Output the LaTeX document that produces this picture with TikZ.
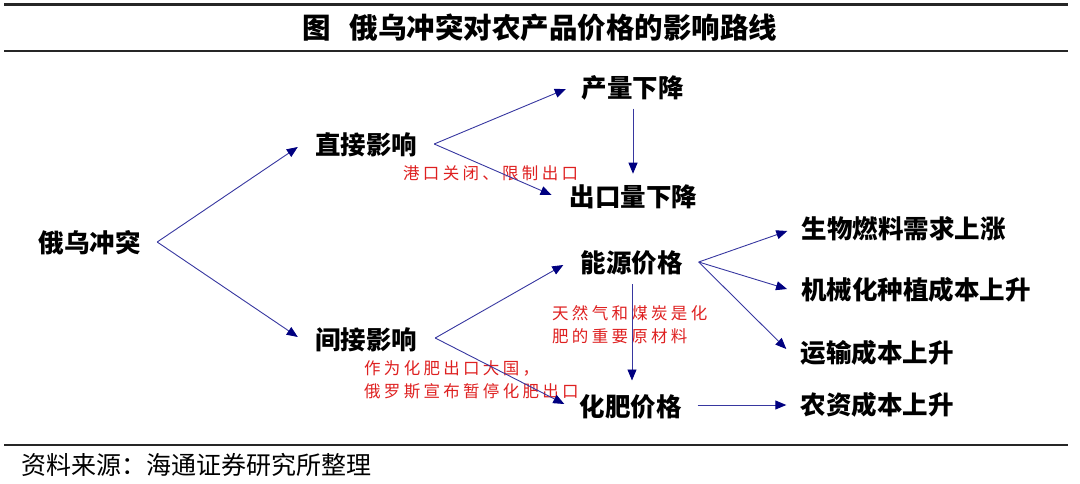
\documentclass[tikz,border=0pt]{standalone}
\usepackage{fontspec}
\usetikzlibrary{arrows.meta,calc}
\newfontfamily\cjk{Noto Sans CJK SC}
\newfontfamily\cjkred{Noto Sans CJK SC}[LetterSpace=20]
\definecolor{arrline}{RGB}{55,55,160}
\definecolor{arrhead}{RGB}{0,0,128}
\definecolor{redtxt}{RGB}{222,32,32}
\tikzset{
  lbl/.style={inner sep=0pt, font=\cjk\bfseries\fontsize{25.5}{28}\selectfont, text=black},
  note/.style={inner sep=0pt, anchor=west, align=left, text=redtxt, font=\cjkred\fontsize{16.5}{23.5}\selectfont},
  arr/.style={draw=arrline, line width=0.9pt, -{Triangle[length=11pt,width=9pt,color=arrhead]}},
  rule/.style={draw=black!85, line width=2.2pt}
}
\begin{document}
\begin{tikzpicture}[x=1pt,y=-1pt]
\useasboundingbox (0,0) rectangle (1080,483);
% rules
\coordinate (t1a) at (4,4.5); \coordinate (t1b) at (1068,4.5);
\coordinate (t2a) at (4,51);  \coordinate (t2b) at (1068,51);
\coordinate (b1a) at (4,445); \coordinate (b1b) at (1068,445);
\draw[rule] (t1a) -- (t1b);
\draw[rule] (t2a) -- (t2b);
\draw[rule, line width=2pt] (b1a) -- (b1b);
% title and footer
\node[inner sep=0pt, font=\cjk\bfseries\fontsize{28.5}{31}\selectfont] (title) at (540,28) {图\hspace{19pt}俄乌冲突对农产品价格的影响路线};
\node[inner sep=0pt, anchor=west, font=\cjk\fontsize{25}{28}\selectfont] (src) at (21,465) {资料来源：海通证券研究所整理};
% nodes
\node[lbl] (A) at (89.5,243) {俄乌冲突};
\node[lbl] (B) at (366,145) {直接影响};
\node[lbl] (C) at (366,340) {间接影响};
\node[lbl] (D) at (632.5,88) {产量下降};
\node[lbl] (E) at (633.5,197) {出口量下降};
\node[lbl] (F) at (631.5,263) {能源价格};
\node[lbl] (G) at (630.5,407) {化肥价格};
\node[lbl] (H) at (903.5,229) {生物燃料需求上涨};
\node[lbl] (I) at (916,290) {机械化种植成本上升};
\node[lbl] (J) at (877,353) {运输成本上升};
\node[lbl] (K) at (877,405) {农资成本上升};
% red notes
\node[note] (n1) at (403,173) {港口关闭、限制出口};
\node[note] (n2) at (552,324.5) {天然气和煤炭是化\\肥的重要原材料};
\node[note] (n3) at (364,380) {作为化肥出口大国，\\俄罗斯宣布暂停化肥出口};
% connectors
\draw[arr] ([xshift=16.5pt,yshift=1pt]A.east) -- ([xshift=-17pt,yshift=-2pt]B.west);
\draw[arr] ([xshift=16.5pt,yshift=1pt]A.east) -- ([xshift=-17pt,yshift=3pt]C.west);
\draw[arr] ([xshift=17pt,yshift=1pt]B.east) -- ([xshift=-15.5pt,yshift=-1pt]D.west);
\draw[arr] ([xshift=17pt,yshift=1pt]B.east) -- ([xshift=-18pt,yshift=2pt]E.west);
\draw[arr] ([xshift=0.5pt,yshift=-8pt]D.south) -- ([xshift=-0.5pt,yshift=11pt]E.north);
\draw[arr] ([xshift=18pt,yshift=2pt]C.east) -- ([xshift=-17pt,yshift=-2pt]F.west);
\draw[arr] ([xshift=18pt,yshift=2pt]C.east) -- ([xshift=-15pt,yshift=3pt]G.west);
\draw[arr] ([xshift=0.5pt,yshift=-9pt]F.south) -- ([xshift=1.5pt,yshift=14pt]G.north);
\draw[arr] ([xshift=16pt,yshift=1pt]F.east) -- ([xshift=-14pt,yshift=-2pt]H.west);
\draw[arr] ([xshift=16pt,yshift=1pt]F.east) -- ([xshift=-14pt,yshift=1pt]I.west);
\draw[arr] ([xshift=16pt,yshift=1pt]F.east) -- ([xshift=-14pt,yshift=4pt]J.west);
\draw[arr] ([xshift=16pt,yshift=2pt]G.east) -- ([xshift=-14pt,yshift=0pt]K.west);
\end{tikzpicture}
\end{document}
